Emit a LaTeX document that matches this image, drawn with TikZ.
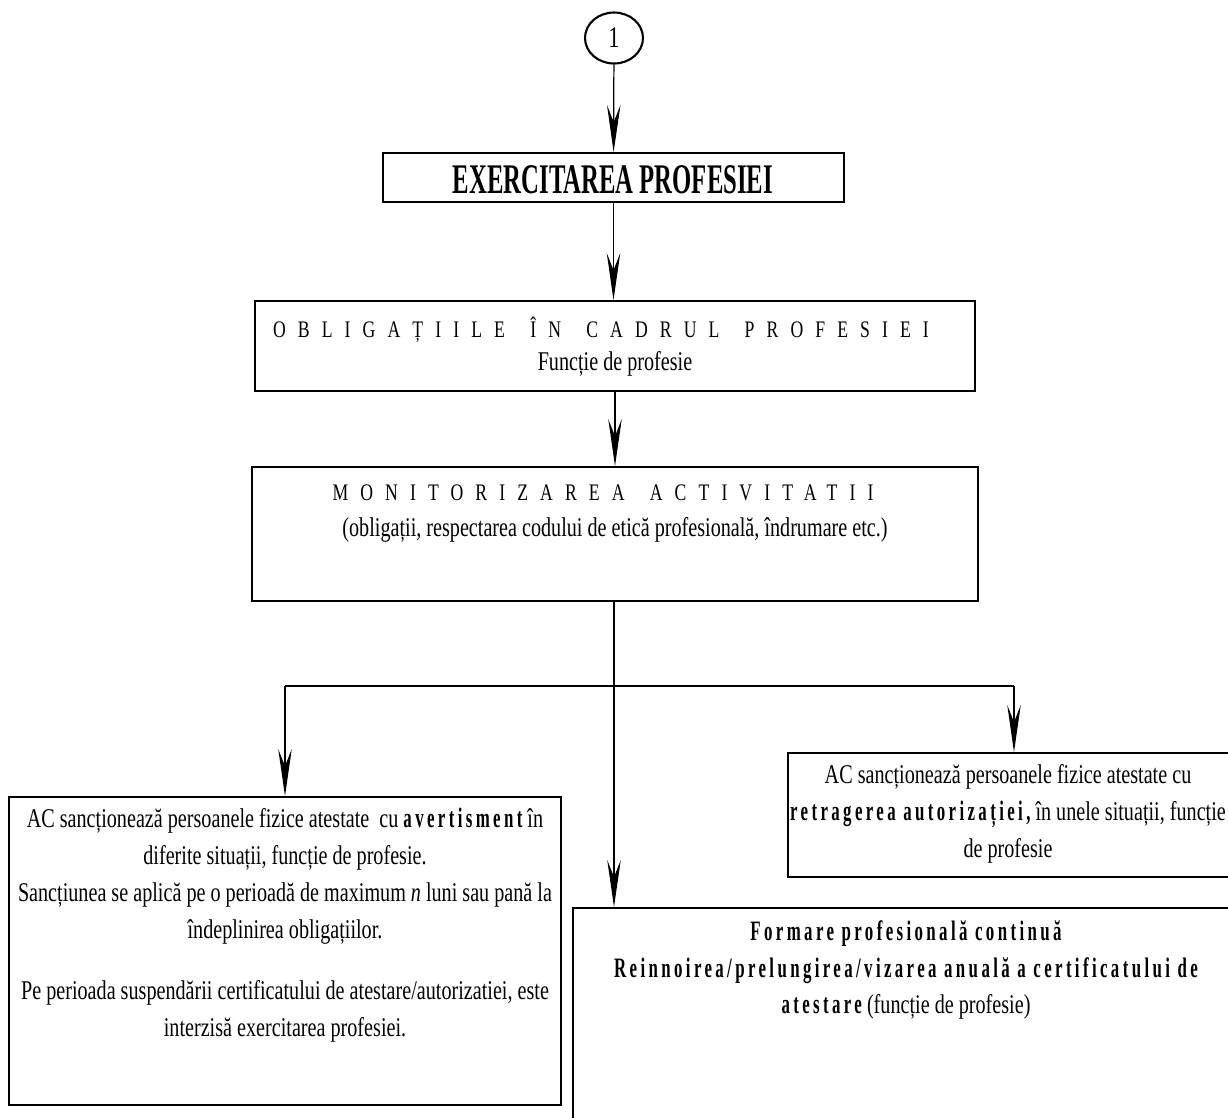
\documentclass[tikz,border=0pt]{standalone}
\usepackage{fontspec}
\setmainfont{Liberation Serif}[FakeStretch=0.745]
\newfontfamily\titlefont{Liberation Serif}[FakeStretch=0.586]
\newfontfamily\spacedfont{Liberation Serif}[FakeStretch=0.745,LetterSpace=51]
\newfontfamily\wideboldfont{Liberation Serif}[FakeStretch=0.6,LetterSpace=12]
\newcommand{\bt}[1]{{\wideboldfont\bfseries\fontsize{16}{21}\selectfont #1}}
\newcommand{\wgap}{\hspace{5pt}}
\usetikzlibrary{arrows.meta}
\usetikzlibrary{shapes.geometric}

\begin{document}
\begin{tikzpicture}[x=0.02cm,y=-0.02cm,
  box/.style={draw,line width=1.1pt,inner sep=0pt},
  txt/.style={inner sep=0pt,align=center,font=\fontsize{15.4}{21}\selectfont},
  spaced/.style={inner sep=0pt,anchor=base,font=\spacedfont\fontsize{13.5}{16}\selectfont},
  conn/.style={line width=0.7pt,-{Stealth[length=0.94cm,width=0.27cm,inset=0.34cm]}}]

\path[use as bounding box,clip] (0,0) rectangle (1228,1117);

\node[ellipse,draw,line width=1.2pt,minimum width=1.16cm,minimum height=1.02cm,inner sep=0pt,font=\fontsize{17}{20}\selectfont] (one) at (614,38) {1};

\node[box,minimum width=9.22cm,minimum height=0.98cm] (ex) at (613.5,177.5) {};
\node[inner sep=0pt,anchor=base,font={\titlefont\bfseries\fontsize{24}{28}\selectfont}] (extxt) at (613,193) {EXERCITAREA PROFESIEI};

\node[box,minimum width=14.4cm,minimum height=1.8cm] (oblig) at (615,346) {};
\node[spaced] (obligtop) at (601,337) {OBLIGAȚIILE\wgap{} ÎN\wgap{} CADRUL\wgap{} PROFESIEI};
\node[txt,anchor=base] (obligsub) at (615,370) {Funcție de profesie};

\node[box,minimum width=14.52cm,minimum height=2.68cm] (monit) at (615,534) {};
\node[spaced] (monittop) at (603,500) {MONITORIZAREA\wgap{} ACTIVITATII};
\node[txt,anchor=base] (monitsub) at (615,536) {(obligații, respectarea codului de etică profesională, îndrumare etc.)};

\node[box,minimum width=11.04cm,minimum height=6.16cm] (warn) at (285,951) {};
\node[txt,anchor=north] (warntxt) at (285,808) {AC sancționează persoanele fizice atestate \ cu \bt{avertisment} în\\
  diferite situații, funcție de profesie.\\
  Sancțiunea se aplică pe o perioadă de maximum \textit{n} luni sau pană la\\
  îndeplinirea obligațiilor.\\[13.7pt]
  Pe perioada suspendării certificatului de atestare/autorizatiei, este\\
  interzisă exercitarea profesiei.};

\node[box,minimum width=9.04cm,minimum height=2.48cm] (revoke) at (1014,815) {};
\node[txt,anchor=north] (revoketxt) at (1008,764) {AC sancționează persoanele fizice atestate cu\\
  \bt{retragerea autorizației,} în unele situații, funcție\\
  de profesie};

\node[box,minimum width=13.34cm,minimum height=4.64cm] (formare) at (906.5,1024) {};
\node[txt,anchor=north] (formtxt) at (906,920) {\bt{Formare profesională continuă}\\
  \bt{Reinnoirea/prelungirea/vizarea anuală a certificatului de}\\
  \bt{atestare} (funcție de profesie)};

\coordinate (split) at (614,686);

\draw[conn] (one) -- (ex);
\draw[conn] (ex.south) -- (ex.south |- oblig.north);
\draw[conn] (oblig.south) -- (oblig.south |- monit.north);
\draw[conn] (monit.south -| split) -- (formare.north -| split);
\draw[line width=1.1pt] (warn.north |- split) -- (revoke.north |- split);
\draw[conn] (warn.north |- split) -- (warn.north);
\draw[conn] (revoke.north |- split) -- (revoke.north);

\end{tikzpicture}
\end{document}
